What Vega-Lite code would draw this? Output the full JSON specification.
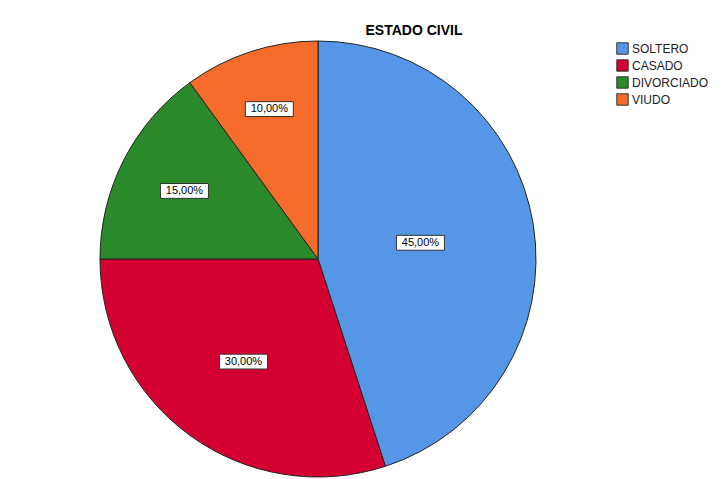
{
  "$schema": "https://vega.github.io/schema/vega-lite/v6.json",
  "width": 436,
  "height": 436,
  "autosize": {"type": "none"},
  "padding": {"left": 100, "top": 41, "right": 188, "bottom": 2},
  "background": "white",
  "title": {
    "text": "ESTADO CIVIL",
    "anchor": "middle",
    "dx": 96,
    "offset": 1,
    "font": "Liberation Sans",
    "fontSize": 14,
    "fontWeight": "bold",
    "color": "#000000"
  },
  "data": {
    "values": [
      {"estado": "SOLTERO", "orden": 1, "porcentaje": 0.45},
      {"estado": "CASADO", "orden": 2, "porcentaje": 0.30},
      {"estado": "DIVORCIADO", "orden": 3, "porcentaje": 0.15},
      {"estado": "VIUDO", "orden": 4, "porcentaje": 0.10}
    ]
  },
  "transform": [
    {"window": [{"op": "sum", "field": "porcentaje", "as": "acum"}], "sort": [{"field": "orden"}], "frame": [null, 0]},
    {"calculate": "2*PI*(datum.acum - datum.porcentaje/2)", "as": "ang"},
    {"calculate": "173 - 154*datum.porcentaje", "as": "rl"},
    {"calculate": "datum.rl*sin(datum.ang)", "as": "lx"},
    {"calculate": "datum.rl*cos(datum.ang)", "as": "ly"}
  ],
  "layer": [
    {
      "mark": {"type": "arc", "radius": 218, "stroke": "#222222", "strokeWidth": 1},
      "encoding": {
        "theta": {"field": "porcentaje", "type": "quantitative", "stack": true},
        "order": {"field": "orden", "type": "quantitative"},
        "color": {
          "field": "estado",
          "type": "nominal",
          "sort": ["SOLTERO", "CASADO", "DIVORCIADO", "VIUDO"],
          "scale": {
            "domain": ["SOLTERO", "CASADO", "DIVORCIADO", "VIUDO"],
            "range": ["#5596e6", "#d50032", "#2a8a2a", "#f46b2a"]
          },
          "legend": {
            "title": null,
            "orient": "none",
            "legendX": 516,
            "legendY": 1,
            "symbolType": "square",
            "symbolSize": 130,
            "symbolStrokeColor": "#333333",
            "symbolStrokeWidth": 1,
            "symbolOpacity": 1,
            "labelFont": "Liberation Sans",
            "labelFontSize": 12,
            "labelColor": "#222222",
            "labelOffset": 3,
            "rowPadding": 0
          }
        }
      }
    },
    {
      "mark": {
        "type": "point",
        "shape": "M-1,-0.31H1V0.31H-1Z",
        "size": 2304,
        "filled": true,
        "fill": "#ffffff",
        "fillOpacity": 1,
        "opacity": 1,
        "stroke": "#333333",
        "strokeWidth": 1
      },
      "encoding": {
        "x": {"field": "lx", "type": "quantitative", "scale": {"domain": [-218, 218], "nice": false, "zero": false}, "axis": null},
        "y": {"field": "ly", "type": "quantitative", "scale": {"domain": [-218, 218], "nice": false, "zero": false}, "axis": null}
      }
    },
    {
      "mark": {
        "type": "text",
        "font": "Liberation Sans",
        "fontSize": 11,
        "fill": "#000000",
        "align": "center",
        "baseline": "middle"
      },
      "encoding": {
        "x": {"field": "lx", "type": "quantitative"},
        "y": {"field": "ly", "type": "quantitative"},
        "text": {"field": "porcentaje", "type": "quantitative", "format": ".2%"}
      }
    }
  ],
  "config": {
    "view": {"stroke": null},
    "locale": {
      "number": {"decimal": ",", "thousands": ".", "grouping": [3], "currency": ["", " €"]}
    }
  }
}
